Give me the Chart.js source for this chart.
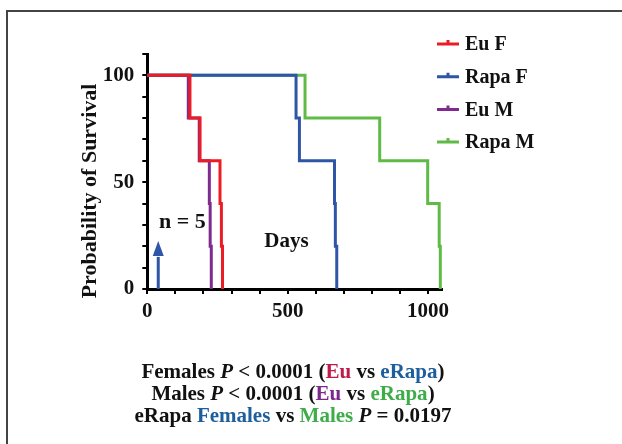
<!DOCTYPE html>
<html>
<head>
<meta charset="utf-8">
<script src="https://cdn.jsdelivr.net/npm/chart.js@4.4.1/dist/chart.umd.min.js"></script>
<style>
  html, body { margin: 0; padding: 0; background: #fff; }
  #wrap { position: relative; width: 622px; height: 444px; overflow: hidden; }
  #frame { position: absolute; left: 6px; top: 10px; width: 640px; height: 460px;
           border-top: 2px solid #444; border-left: 2px solid #444; }
  #chart { position: absolute; left: 0; top: 0; }
  #stats { position: absolute; left: 0; top: 360px; width: 586px; text-align: center;
           font: bold 21px "Liberation Serif", serif; line-height: 22px; color: #111; }
  #stats i { font-style: italic; }
</style>
</head>
<body>
<div id="wrap">
  <div id="frame"></div>
  <canvas id="chart" width="622" height="444"></canvas>
  <div id="stats">
    <div>Females <i>P</i> &lt; 0.0001 (<span style="color:#c01a48">Eu</span> vs <span style="color:#1d5e9c">eRapa</span>)</div>
    <div>Males <i>P</i> &lt; 0.0001 (<span style="color:#7b2a8c">Eu</span> vs <span style="color:#3fac4a">eRapa</span>)</div>
    <div>eRapa <span style="color:#1d5e9c">Females</span> vs <span style="color:#3fac4a">Males</span> <i>P</i> = 0.0197</div>
  </div>
</div>
<script>
// survival curves: day of each drop and survival (%) after it
const euFDays = [0, 152, 188, 259, 264, 268];
const euFSurv = [100, 80, 60, 40, 20, 0];
const rapaFDays = [0, 530, 542, 667, 670, 675];
const rapaFSurv = [100, 80, 60, 40, 20, 0];
const euMDays = [0, 146, 185, 221, 224, 228];
const euMSurv = [100, 80, 60, 40, 20, 0];
const rapaMDays = [0, 562, 828, 999, 1040, 1044];
const rapaMSurv = [100, 80, 60, 40, 20, 0];

const seriesNames = ["Eu F", "Rapa F", "Eu M", "Rapa M"];
const yTickLabels = [0, 50, 100];
const xTickLabels = [0, 500, 1000];

// start of treatment arrow
const arrowDay = 39;

const FONT = "'Liberation Serif', 'Times New Roman', serif";

function points(days, surv) {
  return days.map((d, i) => ({ x: d, y: surv[i] }));
}

function series(label, days, surv, color, order) {
  return {
    label: label,
    data: points(days, surv),
    borderColor: color,
    backgroundColor: color,
    borderWidth: 3,
    stepped: true,
    pointRadius: 0,
    fill: false,
    order: order,
  };
}

// legend, axis title and the in-plot notes
const extras = {
  id: "extras",
  afterDatasetsDraw(chart) {
    const { ctx, scales, chartArea } = chart;
    const x = scales.x, y = scales.y;
    ctx.save();

    // arrow
    const ax = x.getPixelForValue(arrowDay);
    const y0 = y.getPixelForValue(0);
    const yBase = y.getPixelForValue(15.5);
    const yTip = y.getPixelForValue(22.5);
    ctx.strokeStyle = "#2f55a6";
    ctx.fillStyle = "#2f55a6";
    ctx.lineWidth = 3;
    ctx.beginPath();
    ctx.moveTo(ax, y0);
    ctx.lineTo(ax, yBase + 1);
    ctx.stroke();
    ctx.beginPath();
    ctx.moveTo(ax - 5.5, yBase);
    ctx.lineTo(ax + 5.5, yBase);
    ctx.lineTo(ax, yTip);
    ctx.closePath();
    ctx.fill();

    // notes
    ctx.fillStyle = "#111";
    ctx.textAlign = "center";
    ctx.textBaseline = "middle";
    ctx.font = "bold 22px " + FONT;
    ctx.fillText("n = 5", x.getPixelForValue(125), y.getPixelForValue(31));
    ctx.font = "bold 21px " + FONT;
    ctx.fillText("Days", x.getPixelForValue(496), y.getPixelForValue(22.4));

    // y title
    ctx.save();
    ctx.font = "bold 22px " + FONT;
    ctx.translate(90, 191);
    ctx.rotate(-Math.PI / 2);
    ctx.fillText("Probability of Survival", 0, 0);
    ctx.restore();

    // legend
    const lx = chartArea.right - 5;
    ctx.font = "bold 20px " + FONT;
    ctx.textAlign = "left";
    chart.data.datasets.forEach((ds, i) => {
      const ly = 44 + i * 32.7;
      ctx.strokeStyle = ds.borderColor;
      ctx.lineWidth = 3;
      ctx.beginPath();
      ctx.moveTo(lx, ly);
      ctx.lineTo(lx + 22, ly);
      ctx.moveTo(lx + 11, ly);
      ctx.lineTo(lx + 11, ly - 4);
      ctx.stroke();
      ctx.fillStyle = "#111";
      ctx.fillText(ds.label, lx + 28, ly + 1);
    });
    ctx.restore();
  },
};

new Chart(document.getElementById("chart"), {
  type: "line",
  data: {
    datasets: [
      series(seriesNames[0], euFDays, euFSurv, "#ec1c24", 0),
      series(seriesNames[1], rapaFDays, rapaFSurv, "#2f55a6", 1),
      series(seriesNames[2], euMDays, euMSurv, "#7e2a8e", 2),
      series(seriesNames[3], rapaMDays, rapaMSurv, "#5fbb46", 3),
    ],
  },
  options: {
    responsive: false,
    animation: false,
    layout: { padding: { left: 78, top: 54, right: 180, bottom: 115 } },
    plugins: { legend: { display: false }, tooltip: { enabled: false } },
    scales: {
      x: {
        type: "linear",
        min: 0,
        max: 1050,
        afterFit: (s) => { s.height = 40; },
        border: { display: true, color: "#000", width: 3 },
        grid: { drawOnChartArea: false, drawTicks: true, tickLength: 5, color: "#000", lineWidth: 2 },
        ticks: {
          stepSize: 100,
          includeBounds: false,
          autoSkip: false,
          maxRotation: 0,
          padding: 5,
          color: "#111",
          font: { family: FONT, size: 21, weight: "bold" },
          callback: (v) => (xTickLabels.includes(v) ? v : ""),
        },
      },
      y: {
        min: 0,
        max: 110,
        afterFit: (s) => { s.width = 69.3; },
        border: { display: true, color: "#000", width: 3 },
        grid: { drawOnChartArea: false, drawTicks: true, tickLength: 5, color: "#000", lineWidth: 2 },
        ticks: {
          stepSize: 10,
          autoSkip: false,
          padding: 8,
          color: "#111",
          font: { family: FONT, size: 21, weight: "bold" },
          callback: (v) => (yTickLabels.includes(v) ? v : ""),
        },
      },
    },
  },
  plugins: [extras],
});
</script>
</body>
</html>
